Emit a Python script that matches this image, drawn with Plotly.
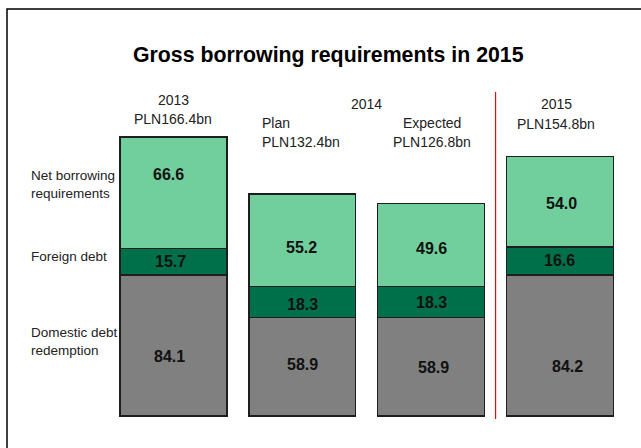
import plotly.graph_objects as go

# ---- data ----
positions = [0, 1, 2, 3]
domestic = [84.1, 58.9, 58.9, 84.2]
foreign = [15.7, 18.3, 18.3, 16.6]
net = [66.6, 55.2, 49.6, 54.0]
totals = ["PLN166.4bn", "PLN132.4bn", "PLN126.8bn", "PLN154.8bn"]
series_names = ["Domestic debt<br>redemption", "Foreign debt", "Net borrowing<br>requirements"]
title = "Gross borrowing requirements in 2015"

W, H = 641, 448
# pixel <-> axis mapping (margins are zero)
X0, XS = 173.5, 128.83      # pixel of category 0, pixels per category
Y0, YS = 416.0, 1.676       # pixel of value 0, pixels per unit
xr = [-X0 / XS, (W - X0) / XS]
yr = [-(H - Y0) / YS, Y0 / YS]

def px(x):
    return x / W

def py(y):
    return 1 - y / H

colors = ["#808080", "#00704A", "#71CF9D"]
fig = go.Figure()
for vals, name, col in zip([domestic, foreign, net], series_names, colors):
    fig.add_trace(go.Bar(
        x=positions, y=vals, name=name, width=0.83,
        marker=dict(color=col, line=dict(color="#1e1e1e", width=1.3)),
        hoverinfo="skip", showlegend=False,
    ))

BOLD = "Liberation Sans, Arial, sans-serif"
NARROW = "Liberation Sans, Arial, sans-serif"
NSIZE = 14

ann = []
# value labels (data coordinates)
label_y = [
    [35.8, 31.0, 29.2, 29.8],
    [91.9, 66.8, 68.0, 92.5],
    [143.8, 100.8, 100.2, 126.5],
]
label_dx = [
    [-0.03, 0.0, 0.02, 0.06],
    [-0.02, 0.0, 0.0, 0.0],
    [-0.04, -0.01, 0.0, 0.01],
]
for vals, ys, dxs in zip([domestic, foreign, net], label_y, label_dx):
    for i, (v, yy, dx) in enumerate(zip(vals, ys, dxs)):
        ann.append(dict(x=positions[i] + dx, y=yy, xref="x", yref="y",
                        text=f"<b>{v:.1f}</b>", showarrow=False,
                        font=dict(family=BOLD, size=16, color="#111111")))

# header labels
hdr = [
    (173, 100, "2013", "center"),
    (173, 119, totals[0], "center"),
    (260, 123, "Plan", "left"),
    (260, 142, totals[1], "left"),
    (366, 104, "2014", "center"),
    (432, 123, "Expected", "center"),
    (432, 142, totals[2], "center"),
    (556, 104, "2015", "center"),
    (556, 124, totals[3], "center"),
]
for x, y, t, a in hdr:
    ann.append(dict(x=px(x), y=py(y), xref="paper", yref="paper", text=t,
                    showarrow=False, xanchor=a, yanchor="middle",
                    font=dict(family=NARROW, size=NSIZE, color="#222222")))

# left series labels
side = [
    (29, 175, "Net borrowing"),
    (29, 193, "requirements"),
    (29, 256, "Foreign debt"),
    (29, 332, "Domestic debt"),
    (29, 350, "redemption"),
]
for x, y, t in side:
    ann.append(dict(x=px(x), y=py(y), xref="paper", yref="paper", text=t,
                    showarrow=False, xanchor="left", yanchor="middle",
                    font=dict(family=NARROW, size=13.5, color="#222222")))

# title
ann.append(dict(x=px(328), y=py(55), xref="paper", yref="paper",
                text=f"<b>{title}</b>", showarrow=False,
                xanchor="center", yanchor="middle",
                font=dict(family=BOLD, size=21.3, color="#000000")))

shapes = [
    # frame
    dict(type="path", xref="paper", yref="paper",
         path=f"M {px(7)} 0 L {px(7)} {py(9)} L 1 {py(9)}",
         line=dict(color="#000000", width=1.5)),
    # separator between 2014 and 2015
    dict(type="line", xref="x", yref="paper", x0=2.5, x1=2.5,
         y0=py(419), y1=py(92), line=dict(color="#ff0000", width=1.2)),
]

fig.update_layout(
    barmode="stack", width=W, height=H,
    margin=dict(l=0, r=0, t=0, b=0),
    paper_bgcolor="white", plot_bgcolor="white",
    xaxis=dict(range=xr, visible=False, fixedrange=True),
    yaxis=dict(range=yr, visible=False, fixedrange=True),
    annotations=ann, shapes=shapes, showlegend=False,
)
fig.write_html("out.html")
